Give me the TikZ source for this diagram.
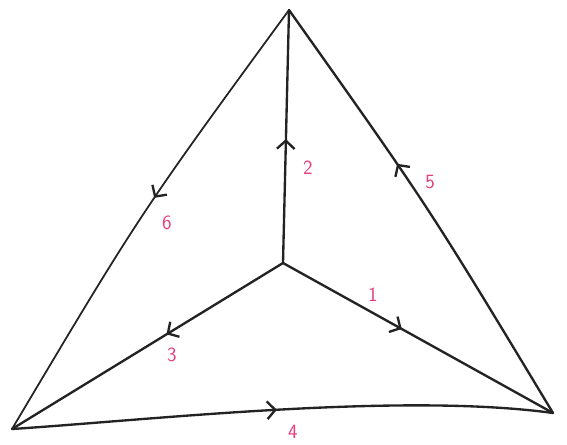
\documentclass[tikz,border=0pt]{standalone}
\usetikzlibrary{arrows.meta,decorations.markings}
\definecolor{inkpink}{RGB}{228,64,128}
\definecolor{ink}{RGB}{35,35,35}
\begin{document}
\begin{tikzpicture}[x=0.03cm,y=-0.03cm,
  edge/.style={draw=ink,line width=2pt,line cap=round},
  midarrow/.style={postaction={decorate,decoration={markings,
      mark=at position #1 with {\arrow[ink,line width=2pt]{Straight Barb[length=7pt,width=15pt]}}}}},
  lbl/.style={text=inkpink,font=\sffamily\LARGE}]
\useasboundingbox (0,0) rectangle (567,444);
\coordinate (T) at (289,10);
\coordinate (C) at (283,263);
\coordinate (L) at (12,429);
\coordinate (R) at (553,413);
\draw[edge,midarrow=0.49] (C) -- (T);
\draw[edge,midarrow=0.44] (C) -- (R);
\draw[edge,midarrow=0.43] (C) -- (L);
\draw[edge,midarrow=0.49] (L) .. controls (150,420) and (400,392) .. (R);
\draw[edge,midarrow=0.61] (R) .. controls (428.5,206.6) .. (T);
\draw[edge,line width=1.5pt,midarrow=0.46] (T) .. controls (140.5,213) .. (L);
\node[lbl] (n2) at (308,168) {2};
\node[lbl] (n1) at (373,295) {1};
\node[lbl] (n3) at (172,355) {3};
\node[lbl] (n4) at (293,432) {4};
\node[lbl] (n5) at (430,182) {5};
\node[lbl] (n6) at (167,223) {6};
\end{tikzpicture}
\end{document}
